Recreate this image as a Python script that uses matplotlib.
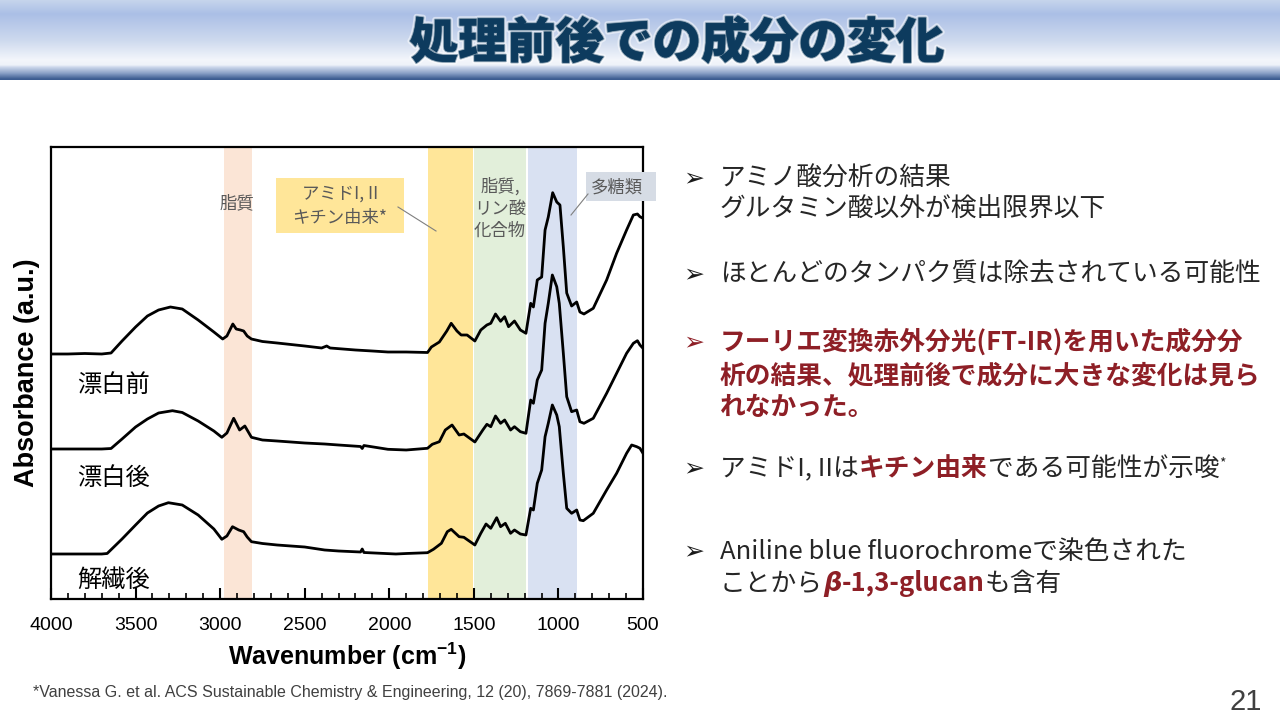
import numpy as np
import matplotlib.pyplot as plt
from matplotlib.lines import Line2D
from matplotlib.patches import Rectangle
from matplotlib.ticker import MultipleLocator
import matplotlib.patheffects as pe

plt.rcParams['font.family'] = ['Noto Sans CJK JP', 'DejaVu Sans']
plt.rcParams['mathtext.fontset'] = 'custom'
plt.rcParams['mathtext.rm'] = 'Liberation Sans'
plt.rcParams['mathtext.bf'] = 'Liberation Sans:bold'

# ---- spectra (wavenumber cm-1, absorbance a.u. with offsets) ----
wn_before = [4000, 3900, 3800, 3700, 3645, 3580, 3500, 3430, 3364, 3294, 3224, 3130, 3037, 2985, 2960,
             2925, 2905, 2880, 2861, 2840, 2815, 2750, 2663, 2500, 2400, 2370, 2350, 2200, 2100, 2008,
             1900, 1774, 1751, 1704, 1660, 1634, 1600, 1575, 1540, 1494, 1459, 1423, 1400, 1372, 1342,
             1318, 1295, 1260, 1225, 1192, 1164, 1148, 1125, 1099, 1079, 1060, 1034, 1010, 991, 971,
             951, 922, 892, 873, 849, 794, 715, 656, 597, 557, 533, 518, 500]
abs_before = [2.45, 2.45, 2.455, 2.45, 2.46, 2.58, 2.72, 2.83, 2.89, 2.92, 2.90, 2.79, 2.67, 2.60, 2.63,
              2.75, 2.70, 2.69, 2.68, 2.63, 2.60, 2.575, 2.56, 2.53, 2.51, 2.53, 2.51, 2.49, 2.48, 2.47,
              2.47, 2.465, 2.52, 2.57, 2.68, 2.757, 2.68, 2.64, 2.64, 2.58, 2.69, 2.74, 2.757, 2.85, 2.777,
              2.823, 2.723, 2.78, 2.69, 2.657, 2.957, 2.92, 3.19, 3.22, 3.69, 3.82, 4.063, 3.97, 3.94, 3.52,
              3.06, 2.93, 2.97, 2.87, 2.85, 2.907, 3.19, 3.457, 3.69, 3.84, 3.85, 3.823, 3.807]

wn_after = [4000, 3900, 3800, 3700, 3645, 3580, 3500, 3430, 3364, 3282, 3224, 3130, 3037, 2990, 2960,
            2920, 2885, 2854, 2815, 2750, 2663, 2500, 2382, 2300, 2170, 2160, 2150, 2008, 1900, 1774,
            1746, 1704, 1669, 1629, 1587, 1559, 1494, 1447, 1423, 1400, 1372, 1342, 1318, 1283, 1260,
            1225, 1192, 1164, 1148, 1125, 1099, 1079, 1060, 1036, 1010, 995, 971, 951, 922, 892,
            873, 849, 794, 715, 656, 597, 557, 533, 518, 500]
abs_after = [1.50, 1.50, 1.50, 1.50, 1.505, 1.60, 1.72, 1.80, 1.86, 1.883, 1.865, 1.78, 1.68, 1.617, 1.66,
             1.807, 1.69, 1.73, 1.617, 1.59, 1.58, 1.56, 1.55, 1.54, 1.525, 1.505, 1.535, 1.497, 1.49, 1.507,
             1.547, 1.573, 1.69, 1.74, 1.64, 1.65, 1.57, 1.69, 1.747, 1.723, 1.83, 1.757, 1.79, 1.69, 1.723,
             1.673, 1.657, 1.99, 1.957, 2.19, 2.29, 2.757, 2.957, 3.24, 3.123, 2.957, 2.457, 2.023, 1.873, 1.89,
             1.773, 1.757, 1.807, 2.057, 2.257, 2.457, 2.557, 2.583, 2.54, 2.507]

wn_fib = [4000, 3900, 3800, 3700, 3668, 3580, 3500, 3430, 3364, 3306, 3224, 3130, 3037, 2990, 2960,
          2927, 2890, 2861, 2840, 2815, 2750, 2663, 2500, 2382, 2300, 2170, 2160, 2150, 1961, 1900,
          1774, 1739, 1692, 1657, 1634, 1587, 1559, 1494, 1459, 1428, 1400, 1365, 1342, 1314, 1283,
          1260, 1225, 1192, 1164, 1148, 1125, 1099, 1079, 1060, 1036, 1010, 995, 971, 951, 922,
          892, 873, 853, 794, 715, 656, 597, 567, 537, 518, 500]
abs_fib = [0.45, 0.45, 0.45, 0.45, 0.455, 0.60, 0.74, 0.86, 0.93, 0.963, 0.94, 0.84, 0.70, 0.597, 0.63,
           0.723, 0.69, 0.673, 0.62, 0.573, 0.555, 0.54, 0.52, 0.49, 0.48, 0.47, 0.50, 0.465, 0.45, 0.455,
           0.463, 0.497, 0.557, 0.673, 0.697, 0.623, 0.617, 0.54, 0.657, 0.75, 0.707, 0.813, 0.723, 0.757, 0.657,
           0.69, 0.65, 0.64, 0.907, 0.89, 1.157, 1.29, 1.623, 1.757, 1.94, 1.84, 1.723, 1.257, 0.907, 0.857,
           0.89, 0.79, 0.783, 0.857, 1.09, 1.257, 1.457, 1.54, 1.523, 1.507, 1.457]

sample_names = ['漂白前', '漂白後', '解繊後']

# assignment bands (cm-1)
band_hi = [2978, 1770, 1500, 1180]
band_lo = [2812, 1505, 1192, 890]
band_colors = ['#FBE5D6', '#FFE699', '#E2EFDA', '#D9E1F2']

W, H = 1280, 720
def fx(x):
    return x / W
def fy(y):
    return 1 - y / H

fig = plt.figure(figsize=(12.8, 7.2), dpi=100)
fig.patch.set_facecolor('white')

# ---- title band ----
stops_y = [0, 14, 40, 60, 65, 67, 73, 79, 80]
stops_c = np.array([(199, 213, 236), (171, 191, 230), (205, 217, 238), (243, 246, 251),
                    (238, 242, 249), (205, 216, 236), (140, 162, 200), (60, 92, 145), (60, 92, 145)]) / 255
yy = np.arange(80) + 0.5
grad = np.stack([np.interp(yy, stops_y, stops_c[:, i]) for i in range(3)], axis=-1)[:, None, :]
tax = fig.add_axes([0, fy(80), 1, 80 / H])
tax.imshow(grad, aspect='auto', interpolation='bilinear')
tax.axis('off')
fig.text(fx(677), fy(58), '処理前後での成分の変化', ha='center', va='baseline', fontsize=35,
         fontweight='heavy', color='#0D3B5E',
         path_effects=[pe.withStroke(linewidth=1.5, foreground='#0D3B5E'),
                       pe.withStroke(linewidth=4, foreground='white', alpha=0.5), pe.Normal()])

# ---- spectrum axes ----
ax = fig.add_axes([fx(51), fy(599), 592 / W, 452 / H])
for lo, hi, c in zip(band_lo, band_hi, band_colors):
    ax.axvspan(lo, hi, color=c, lw=0, zorder=0)
for w, a in [(wn_before, abs_before), (wn_after, abs_after), (wn_fib, abs_fib)]:
    ax.plot(w, a, color='black', lw=2.0, zorder=2)
ax.set_xlim(4000, 500)
ax.set_ylim(0, 4.52)
ax.set_yticks([])
ax.xaxis.set_major_locator(MultipleLocator(500))
ax.xaxis.set_minor_locator(MultipleLocator(100))
ax.tick_params(axis='x', which='major', direction='in', length=8, width=1.5, pad=13, labelsize=14)
ax.tick_params(axis='x', which='minor', direction='in', length=4, width=1.2)
for lab in ax.get_xticklabels():
    lab.set_fontfamily('Liberation Sans')
for s in ax.spines.values():
    s.set_linewidth(1.6)
ax.set_xlabel(r'Wavenumber (cm$^{\mathbf{-1}}$)', fontsize=18, fontweight='bold',
              fontfamily='Liberation Sans', labelpad=5)
ax.set_ylabel('Absorbance (a.u.)', fontsize=19.5, fontweight='bold',
              fontfamily='Liberation Sans', labelpad=8)

# sample labels
for name, yb in zip(sample_names, [392, 485, 587]):
    fig.text(fx(77), fy(yb), name, ha='left', va='baseline', fontsize=17.5, color='black')

# band annotations
note = '#595959'
fig.text(fx(237), fy(208), '脂質', ha='center', va='baseline', fontsize=12.5, color=note)
fig.add_artist(Rectangle((fx(276), fy(233)), 128 / W, 55 / H, transform=fig.transFigure,
                         facecolor='#FFE699', edgecolor='none', zorder=2))
fig.text(fx(340), fy(199), 'アミドI, II', ha='center', va='baseline', fontsize=12.5, color=note, zorder=3)
fig.text(fx(340), fy(223), 'キチン由来*', ha='center', va='baseline', fontsize=12.5, color=note, zorder=3)
fig.add_artist(Line2D([fx(398), fx(436)], [fy(207), fy(231)], transform=fig.transFigure,
                      color='#7F7F7F', lw=0.8, zorder=3))
for t, yb in zip(['脂質,', 'リン酸', '化合物'], [192, 214, 236]):
    fig.text(fx(500), fy(yb), t, ha='center', va='baseline', fontsize=12.5, color=note, zorder=3)
fig.add_artist(Rectangle((fx(586), fy(201)), 70 / W, 29 / H, transform=fig.transFigure,
                         facecolor='#D6DCE5', edgecolor='none', zorder=2))
fig.text(fx(617), fy(193), '多糖類', ha='center', va='baseline', fontsize=12.5, color=note, zorder=3)
fig.add_artist(Line2D([fx(588), fx(571)], [fy(194), fy(215)], transform=fig.transFigure,
                      color='#7F7F7F', lw=0.8, zorder=3))

# ---- bullet text on the right ----
gray = '#262626'
red = '#8E1F26'
fs = 18.5
renderer = fig.canvas.get_renderer()

def run(x, yb, pieces):
    for s, kw in pieces:
        t = fig.text(fx(x), fy(yb - kw.pop('rise', 0)), s, ha='left', va='baseline', **kw)
        x += t.get_window_extent(renderer=renderer).width

for yb, c in [(186, '#1a1a1a'), (282, '#1a1a1a'), (350, red), (476, '#1a1a1a'), (559, '#1a1a1a')]:
    fig.text(fx(683), fy(yb - 1), '➢', ha='left', va='baseline', fontsize=18,
             color=c, fontfamily='DejaVu Sans')

plain = [(186, 'アミノ酸分析の結果'), (217, 'グルタミン酸以外が検出限界以下'),
         (282, 'ほとんどのタンパク質は除去されている可能性'),
         (559, 'Aniline blue fluorochromeで染色された')]
for yb, s in plain:
    fig.text(fx(720), fy(yb), s, ha='left', va='baseline', fontsize=fs, color=gray)

bold_red = [(350, 'フーリエ変換赤外分光(FT-IR)を用いた成分分'),
            (383, '析の結果、処理前後で成分に大きな変化は見ら'),
            (415, 'れなかった。')]
for yb, s in bold_red:
    fig.text(fx(720), fy(yb), s, ha='left', va='baseline', fontsize=fs, color=red, fontweight='bold')

run(720, 476, [('アミドI, IIは', dict(fontsize=fs, color=gray)),
               ('キチン由来', dict(fontsize=fs, color=red, fontweight='bold')),
               ('である可能性が示唆', dict(fontsize=fs, color=gray)),
               ('*', dict(fontsize=10, color=gray, rise=9))])
run(720, 591, [('ことから', dict(fontsize=fs, color=gray)),
               ('β', dict(fontsize=fs, color=red, fontweight='bold', fontstyle='italic',
                          fontfamily='DejaVu Sans')),
               ('-1,3-glucan', dict(fontsize=fs, color=red, fontweight='bold')),
               ('も含有', dict(fontsize=fs, color=gray))])

# footnote and page number
fig.text(fx(33), fy(697), '*Vanessa G. et al. ACS Sustainable Chemistry & Engineering, 12 (20), 7869-7881 (2024).',
         ha='left', va='baseline', fontsize=11.5, color='#404040',
         fontfamily=['Liberation Sans Narrow', 'Liberation Sans'])
fig.text(fx(1262), fy(710), '21', ha='right', va='baseline', fontsize=21, color='#404040',
         fontfamily='Liberation Sans')

fig.savefig('out.png', dpi=100, facecolor='white')
